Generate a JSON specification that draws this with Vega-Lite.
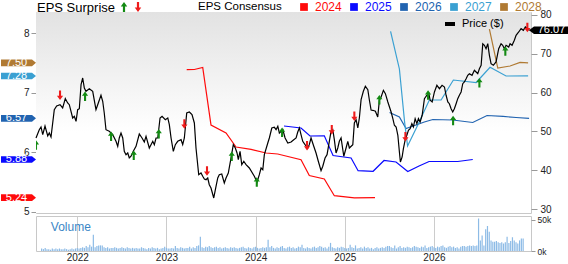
{
 "$schema": "https://vega.github.io/schema/vega-lite/v6.json",
 "padding": 0,
 "background": "white",
 "bounds": "flush",
 "config": {
  "font": "Liberation Sans",
  "view": {"stroke": "#c8c8c8"},
  "axis": {"labelColor": "#222222", "tickColor": "#999999", "gridColor": "#cccccc", "gridWidth": 1, "domain": false, "labelFontSize": 10},
  "legend": {"padding": 0, "titleFontWeight": "normal", "titleColor": "#000000", "labelColor": "#000000"}
 },
 "spacing": 3,
 "resolve": {
  "scale": {"x": "independent", "y": "independent", "color": "independent", "fill": "independent", "shape": "independent", "stroke": "independent"},
  "legend": {"color": "independent", "fill": "independent", "shape": "independent", "stroke": "independent"}
 },
 "datasets": {
  "price": [
   {"t":2021.593,"p":48.30},{"t":2021.629,"p":50.44},{"t":2021.648,"p":51.14},{"t":2021.667,"p":49.15},{"t":2021.692,"p":51.39},{"t":2021.722,"p":48.82},{"t":2021.739,"p":49.59},{"t":2021.758,"p":48.56},{"t":2021.794,"p":55.59},{"t":2021.820,"p":56.55},
   {"t":2021.857,"p":56.88},{"t":2021.886,"p":56.03},{"t":2021.915,"p":58.43},{"t":2021.941,"p":57.32},{"t":2021.959,"p":56.88},{"t":2021.996,"p":53.46},{"t":2022.014,"p":53.89},{"t":2022.033,"p":52.60},{"t":2022.051,"p":55.59},{"t":2022.069,"p":55.85},
   {"t":2022.088,"p":62.04},{"t":2022.106,"p":63.76},{"t":2022.124,"p":61.19},{"t":2022.142,"p":60.34},{"t":2022.179,"p":61.01},{"t":2022.216,"p":60.34},{"t":2022.252,"p":55.59},{"t":2022.271,"p":56.88},{"t":2022.307,"p":59.31},{"t":2022.326,"p":57.76},
   {"t":2022.343,"p":54.74},{"t":2022.362,"p":50.44},{"t":2022.398,"p":50.03},{"t":2022.436,"p":49.15},{"t":2022.472,"p":47.45},{"t":2022.491,"p":46.16},{"t":2022.508,"p":48.30},{"t":2022.527,"p":49.59},{"t":2022.546,"p":48.30},{"t":2022.563,"p":44.87},
   {"t":2022.582,"p":44.00},{"t":2022.601,"p":44.44},{"t":2022.618,"p":43.15},{"t":2022.637,"p":43.59},{"t":2022.662,"p":44.87},{"t":2022.692,"p":46.16},{"t":2022.728,"p":49.33},{"t":2022.758,"p":48.30},{"t":2022.783,"p":47.27},{"t":2022.802,"p":48.74},
   {"t":2022.838,"p":45.72},{"t":2022.876,"p":47.45},{"t":2022.893,"p":46.58},{"t":2022.912,"p":48.30},{"t":2022.931,"p":48.30},{"t":2022.956,"p":53.46},{"t":2022.978,"p":53.89},{"t":2023.014,"p":53.02},{"t":2023.041,"p":53.46},{"t":2023.058,"p":51.73},
   {"t":2023.077,"p":48.30},{"t":2023.102,"p":44.87},{"t":2023.124,"p":46.58},{"t":2023.150,"p":47.45},{"t":2023.187,"p":47.86},{"t":2023.205,"p":46.58},{"t":2023.223,"p":48.30},{"t":2023.249,"p":54.74},{"t":2023.278,"p":55.00},{"t":2023.307,"p":54.31},
   {"t":2023.333,"p":52.17},{"t":2023.351,"p":45.72},{"t":2023.381,"p":38.84},{"t":2023.406,"p":39.28},{"t":2023.425,"p":38.43},{"t":2023.443,"p":37.74},{"t":2023.461,"p":37.56},{"t":2023.480,"p":37.99},{"t":2023.497,"p":36.27},{"t":2023.516,"p":35.42},
   {"t":2023.546,"p":32.84},{"t":2023.571,"p":35.85},{"t":2023.590,"p":37.99},{"t":2023.607,"p":38.84},{"t":2023.634,"p":39.02},{"t":2023.662,"p":36.70},{"t":2023.681,"p":37.99},{"t":2023.706,"p":39.28},{"t":2023.736,"p":43.15},{"t":2023.761,"p":46.58},
   {"t":2023.783,"p":45.72},{"t":2023.802,"p":44.44},{"t":2023.816,"p":42.71},{"t":2023.835,"p":44.87},{"t":2023.854,"p":41.42},{"t":2023.876,"p":42.30},{"t":2023.901,"p":41.42},{"t":2023.937,"p":40.57},{"t":2023.992,"p":38.43},{"t":2024.022,"p":36.96},
   {"t":2024.047,"p":38.84},{"t":2024.066,"p":40.57},{"t":2024.085,"p":40.13},{"t":2024.102,"p":44.00},{"t":2024.140,"p":47.01},{"t":2024.157,"p":48.30},{"t":2024.184,"p":50.88},{"t":2024.212,"p":51.06},{"t":2024.231,"p":50.44},{"t":2024.250,"p":51.32},
   {"t":2024.267,"p":49.59},{"t":2024.286,"p":50.03},{"t":2024.305,"p":50.44},{"t":2024.330,"p":48.30},{"t":2024.360,"p":47.01},{"t":2024.396,"p":47.27},{"t":2024.425,"p":47.86},{"t":2024.451,"p":48.30},{"t":2024.469,"p":49.85},{"t":2024.487,"p":50.88},
   {"t":2024.505,"p":49.15},{"t":2024.524,"p":47.45},{"t":2024.549,"p":46.58},{"t":2024.579,"p":45.72},{"t":2024.596,"p":46.58},{"t":2024.615,"p":48.30},{"t":2024.645,"p":46.16},{"t":2024.670,"p":44.44},{"t":2024.695,"p":42.30},{"t":2024.725,"p":39.87},
   {"t":2024.744,"p":41.01},{"t":2024.769,"p":43.15},{"t":2024.791,"p":44.00},{"t":2024.816,"p":47.45},{"t":2024.835,"p":50.03},{"t":2024.854,"p":50.44},{"t":2024.871,"p":47.86},{"t":2024.890,"p":44.44},{"t":2024.909,"p":45.72},{"t":2024.926,"p":47.45},
   {"t":2024.945,"p":48.30},{"t":2024.975,"p":43.59},{"t":2025.000,"p":45.72},{"t":2025.019,"p":47.45},{"t":2025.036,"p":45.72},{"t":2025.074,"p":46.58},{"t":2025.091,"p":52.17},{"t":2025.110,"p":53.02},{"t":2025.129,"p":50.88},{"t":2025.146,"p":53.46},
   {"t":2025.165,"p":58.17},{"t":2025.190,"p":60.34},{"t":2025.212,"p":61.62},{"t":2025.239,"p":60.75},{"t":2025.256,"p":58.09},{"t":2025.275,"p":55.52},{"t":2025.294,"p":55.44},{"t":2025.322,"p":55.18},{"t":2025.348,"p":53.71},{"t":2025.366,"p":58.02},
   {"t":2025.385,"p":58.87},{"t":2025.410,"p":60.59},{"t":2025.432,"p":59.72},{"t":2025.459,"p":57.58},{"t":2025.495,"p":55.00},{"t":2025.514,"p":53.28},{"t":2025.531,"p":51.57},{"t":2025.550,"p":51.14},{"t":2025.569,"p":49.00},{"t":2025.586,"p":44.69},
   {"t":2025.597,"p":42.12},{"t":2025.616,"p":43.41},{"t":2025.630,"p":45.54},{"t":2025.652,"p":48.12},{"t":2025.668,"p":49.00},{"t":2025.685,"p":50.29},{"t":2025.704,"p":50.70},{"t":2025.723,"p":51.99},{"t":2025.740,"p":51.14},{"t":2025.759,"p":53.28},
   {"t":2025.778,"p":51.99},{"t":2025.795,"p":53.28},{"t":2025.814,"p":52.42},{"t":2025.836,"p":54.15},{"t":2025.861,"p":58.43},{"t":2025.888,"p":59.31},{"t":2025.910,"p":59.72},{"t":2025.924,"p":58.02},{"t":2025.946,"p":57.58},{"t":2025.971,"p":60.16},
   {"t":2025.998,"p":61.88},{"t":2026.026,"p":61.01},{"t":2026.055,"p":61.88},{"t":2026.081,"p":61.44},{"t":2026.099,"p":59.31},{"t":2026.118,"p":57.58},{"t":2026.135,"p":57.14},{"t":2026.154,"p":55.85},{"t":2026.172,"p":55.00},{"t":2026.190,"p":55.85},
   {"t":2026.209,"p":57.14},{"t":2026.227,"p":58.43},{"t":2026.245,"p":59.31},{"t":2026.264,"p":60.16},{"t":2026.282,"p":62.30},{"t":2026.300,"p":62.73},{"t":2026.319,"p":63.58},{"t":2026.337,"p":64.46},{"t":2026.355,"p":64.87},{"t":2026.384,"p":64.46},
   {"t":2026.410,"p":65.75},{"t":2026.429,"p":65.31},{"t":2026.447,"p":64.87},{"t":2026.465,"p":66.16},{"t":2026.484,"p":67.04},{"t":2026.502,"p":72.60},{"t":2026.520,"p":72.19},{"t":2026.538,"p":71.31},{"t":2026.557,"p":72.60},{"t":2026.575,"p":69.61},
   {"t":2026.593,"p":67.45},{"t":2026.618,"p":67.04},{"t":2026.648,"p":67.89},{"t":2026.677,"p":71.31},{"t":2026.703,"p":72.60},{"t":2026.721,"p":72.19},{"t":2026.739,"p":71.31},{"t":2026.758,"p":72.19},{"t":2026.787,"p":71.75},{"t":2026.802,"p":72.60},
   {"t":2026.824,"p":72.19},{"t":2026.849,"p":73.48},{"t":2026.868,"p":74.77},{"t":2026.897,"p":75.62},{"t":2026.923,"p":76.47},{"t":2026.948,"p":76.06},{"t":2026.970,"p":76.91},{"t":2026.996,"p":76.47},{"t":2027.014,"p":76.07}
  ],
  "eps": [
   {"year":"2024","t":2023.249,"eps":7.385},{"year":"2024","t":2023.333,"eps":7.388},{"year":"2024","t":2023.425,"eps":7.422},{"year":"2024","t":2023.516,"eps":6.458},{"year":"2024","t":2023.681,"eps":6.324},{"year":"2024","t":2023.791,"eps":6.089},{"year":"2024","t":2023.956,"eps":6.048},{"year":"2024","t":2024.121,"eps":5.989},{"year":"2024","t":2024.249,"eps":5.972},{"year":"2024","t":2024.505,"eps":5.877},{"year":"2024","t":2024.596,"eps":5.612},{"year":"2024","t":2024.761,"eps":5.553},{"year":"2024","t":2024.871,"eps":5.273},{"year":"2024","t":2025.091,"eps":5.235},{"year":"2024","t":2025.318,"eps":5.24},
   {"year":"2025","t":2024.318,"eps":6.441},{"year":"2025","t":2024.505,"eps":6.408},{"year":"2025","t":2024.604,"eps":6.274},{"year":"2025","t":2024.761,"eps":6.277},{"year":"2025","t":2024.857,"eps":5.947},{"year":"2025","t":2025.055,"eps":5.905},{"year":"2025","t":2025.132,"eps":5.692},{"year":"2025","t":2025.297,"eps":5.682},{"year":"2025","t":2025.417,"eps":5.863},{"year":"2025","t":2025.549,"eps":5.838},{"year":"2025","t":2025.678,"eps":5.679},{"year":"2025","t":2025.802,"eps":5.771},{"year":"2025","t":2025.912,"eps":5.846},{"year":"2025","t":2026.227,"eps":5.846},{"year":"2025","t":2026.392,"eps":5.88},
   {"year":"2026","t":2025.478,"eps":6.668},{"year":"2026","t":2025.586,"eps":6.592},{"year":"2026","t":2025.659,"eps":6.400},{"year":"2026","t":2025.860,"eps":6.508},{"year":"2026","t":2025.953,"eps":6.550},{"year":"2026","t":2026.172,"eps":6.542},{"year":"2026","t":2026.392,"eps":6.500},{"year":"2026","t":2026.549,"eps":6.617},{"year":"2026","t":2026.725,"eps":6.601},{"year":"2026","t":2026.868,"eps":6.584},{"year":"2026","t":2027.011,"eps":6.57},
   {"year":"2027","t":2025.489,"eps":8.028},{"year":"2027","t":2025.586,"eps":7.397},{"year":"2027","t":2025.643,"eps":6.508},{"year":"2027","t":2025.676,"eps":6.106},{"year":"2027","t":2025.788,"eps":6.458},{"year":"2027","t":2025.915,"eps":6.877},{"year":"2027","t":2026.044,"eps":6.877},{"year":"2027","t":2026.179,"eps":7.212},{"year":"2027","t":2026.429,"eps":7.170},{"year":"2027","t":2026.582,"eps":7.425},{"year":"2027","t":2026.758,"eps":7.279},{"year":"2027","t":2027.000,"eps":7.28},
   {"year":"2028","t":2026.575,"eps":8.067},{"year":"2028","t":2026.667,"eps":7.413},{"year":"2028","t":2026.802,"eps":7.447},{"year":"2028","t":2026.912,"eps":7.506},{"year":"2028","t":2027.000,"eps":7.50}
  ],
  "tags": [
   {"year":"2028","eps":7.50},{"year":"2027","eps":7.28},{"year":"2026","eps":6.57},{"year":"2025","eps":5.88},{"year":"2024","eps":5.24}
  ],
  "arrows": [
   {"t":2021.593,"p":46.50,"dir":"up"},{"t":2021.857,"p":59.31,"dir":"down"},{"t":2022.132,"p":59.05,"dir":"up"},{"t":2022.418,"p":48.74,"dir":"up"},{"t":2022.667,"p":43.84,"dir":"up"},{"t":2022.942,"p":49.41,"dir":"up"},{"t":2023.223,"p":51.91,"dir":"down"},
   {"t":2023.472,"p":39.80,"dir":"down"},{"t":2023.744,"p":43.59,"dir":"up"},{"t":2024.019,"p":36.96,"dir":"up"},{"t":2024.297,"p":49.77,"dir":"up"},{"t":2024.571,"p":46.32,"dir":"down"},{"t":2024.843,"p":50.44,"dir":"down"},{"t":2025.091,"p":53.89,"dir":"down"},
   {"t":2025.366,"p":58.17,"dir":"up"},{"t":2025.652,"p":48.64,"dir":"down"},{"t":2025.901,"p":59.38,"dir":"up"},{"t":2026.176,"p":52.81,"dir":"up"},{"t":2026.465,"p":62.53,"dir":"up"},{"t":2026.750,"p":70.72,"dir":"up"},{"t":2026.992,"p":76.78,"dir":"down"}
  ],
  "last": [{"p":76.07}],
  "bg": [{"t0":2021.593,"t1":2027.032,"e0":4.983,"e1":8.352}],
  "vol": [
   {"t":2021.60,"v":4000},{"t":2021.62,"v":3000},{"t":2021.64,"v":5000},{"t":2021.66,"v":3000},{"t":2021.68,"v":3000},{"t":2021.70,"v":2000},{"t":2021.72,"v":4000},{"t":2021.74,"v":3000},{"t":2021.76,"v":4000},{"t":2021.78,"v":3000},
   {"t":2021.80,"v":4000},{"t":2021.82,"v":3000},{"t":2021.84,"v":3000},{"t":2021.86,"v":4000},{"t":2021.88,"v":3000},{"t":2021.90,"v":2000},{"t":2021.92,"v":3000},{"t":2021.94,"v":4000},{"t":2021.96,"v":3000},{"t":2021.98,"v":4000},
   {"t":2022.00,"v":5000},{"t":2022.02,"v":4000},{"t":2022.04,"v":5000},{"t":2022.06,"v":6000},{"t":2022.08,"v":5000},{"t":2022.10,"v":8000},{"t":2022.12,"v":6000},{"t":2022.14,"v":10000},{"t":2022.16,"v":7000},{"t":2022.18,"v":26000},
   {"t":2022.20,"v":6000},{"t":2022.22,"v":8000},{"t":2022.24,"v":9000},{"t":2022.26,"v":9000},{"t":2022.28,"v":9000},{"t":2022.30,"v":6000},{"t":2022.32,"v":5000},{"t":2022.34,"v":6000},{"t":2022.36,"v":4000},{"t":2022.38,"v":5000},
   {"t":2022.40,"v":5000},{"t":2022.42,"v":6000},{"t":2022.44,"v":5000},{"t":2022.46,"v":4000},{"t":2022.48,"v":5000},{"t":2022.50,"v":6000},{"t":2022.52,"v":5000},{"t":2022.54,"v":4000},{"t":2022.56,"v":6000},{"t":2022.58,"v":5000},
   {"t":2022.60,"v":4000},{"t":2022.62,"v":5000},{"t":2022.64,"v":4000},{"t":2022.66,"v":5000},{"t":2022.68,"v":4000},{"t":2022.70,"v":4000},{"t":2022.72,"v":6000},{"t":2022.74,"v":5000},{"t":2022.76,"v":4000},{"t":2022.78,"v":3000},
   {"t":2022.80,"v":5000},{"t":2022.82,"v":4000},{"t":2022.84,"v":6000},{"t":2022.86,"v":5000},{"t":2022.88,"v":4000},{"t":2022.90,"v":5000},{"t":2022.92,"v":3000},{"t":2022.94,"v":4000},{"t":2022.96,"v":5000},{"t":2022.98,"v":7000},
   {"t":2023.00,"v":5000},{"t":2023.02,"v":4000},{"t":2023.04,"v":4000},{"t":2023.06,"v":5000},{"t":2023.08,"v":4000},{"t":2023.10,"v":8000},{"t":2023.12,"v":5000},{"t":2023.14,"v":4000},{"t":2023.16,"v":6000},{"t":2023.18,"v":5000},
   {"t":2023.20,"v":4000},{"t":2023.22,"v":5000},{"t":2023.24,"v":5000},{"t":2023.26,"v":7000},{"t":2023.28,"v":4000},{"t":2023.30,"v":6000},{"t":2023.32,"v":5000},{"t":2023.34,"v":8000},{"t":2023.36,"v":9000},{"t":2023.38,"v":23000},
   {"t":2023.40,"v":6000},{"t":2023.42,"v":5000},{"t":2023.44,"v":7000},{"t":2023.46,"v":6000},{"t":2023.48,"v":8000},{"t":2023.50,"v":6000},{"t":2023.52,"v":5000},{"t":2023.54,"v":6000},{"t":2023.56,"v":7000},{"t":2023.58,"v":5000},
   {"t":2023.60,"v":6000},{"t":2023.62,"v":4000},{"t":2023.64,"v":5000},{"t":2023.66,"v":6000},{"t":2023.68,"v":5000},{"t":2023.70,"v":4000},{"t":2023.72,"v":6000},{"t":2023.74,"v":5000},{"t":2023.76,"v":6000},{"t":2023.78,"v":5000},
   {"t":2023.80,"v":4000},{"t":2023.82,"v":5000},{"t":2023.84,"v":6000},{"t":2023.86,"v":7000},{"t":2023.88,"v":5000},{"t":2023.90,"v":4000},{"t":2023.92,"v":6000},{"t":2023.94,"v":5000},{"t":2023.96,"v":4000},{"t":2023.98,"v":6000},
   {"t":2024.00,"v":7000},{"t":2024.02,"v":5000},{"t":2024.04,"v":4000},{"t":2024.06,"v":5000},{"t":2024.08,"v":6000},{"t":2024.10,"v":5000},{"t":2024.12,"v":6000},{"t":2024.14,"v":18000},{"t":2024.16,"v":6000},{"t":2024.18,"v":8000},
   {"t":2024.20,"v":5000},{"t":2024.22,"v":4000},{"t":2024.24,"v":6000},{"t":2024.26,"v":5000},{"t":2024.28,"v":7000},{"t":2024.30,"v":8000},{"t":2024.32,"v":5000},{"t":2024.34,"v":4000},{"t":2024.36,"v":6000},{"t":2024.38,"v":7000},
   {"t":2024.40,"v":5000},{"t":2024.42,"v":6000},{"t":2024.44,"v":4000},{"t":2024.46,"v":5000},{"t":2024.48,"v":7000},{"t":2024.50,"v":6000},{"t":2024.52,"v":10000},{"t":2024.54,"v":5000},{"t":2024.56,"v":4000},{"t":2024.58,"v":6000},
   {"t":2024.60,"v":5000},{"t":2024.62,"v":4000},{"t":2024.64,"v":6000},{"t":2024.66,"v":7000},{"t":2024.68,"v":5000},{"t":2024.70,"v":6000},{"t":2024.72,"v":8000},{"t":2024.74,"v":7000},{"t":2024.76,"v":5000},{"t":2024.78,"v":6000},
   {"t":2024.80,"v":4000},{"t":2024.82,"v":7000},{"t":2024.84,"v":13000},{"t":2024.86,"v":6000},{"t":2024.88,"v":5000},{"t":2024.90,"v":4000},{"t":2024.92,"v":6000},{"t":2024.94,"v":5000},{"t":2024.96,"v":7000},{"t":2024.98,"v":6000},
   {"t":2025.00,"v":5000},{"t":2025.02,"v":4000},{"t":2025.04,"v":5000},{"t":2025.06,"v":10000},{"t":2025.08,"v":6000},{"t":2025.10,"v":5000},{"t":2025.12,"v":9000},{"t":2025.14,"v":4000},{"t":2025.16,"v":5000},{"t":2025.18,"v":6000},
   {"t":2025.20,"v":4000},{"t":2025.22,"v":7000},{"t":2025.24,"v":5000},{"t":2025.26,"v":6000},{"t":2025.28,"v":4000},{"t":2025.30,"v":5000},{"t":2025.32,"v":3000},{"t":2025.34,"v":5000},{"t":2025.36,"v":6000},{"t":2025.38,"v":4000},
   {"t":2025.40,"v":5000},{"t":2025.42,"v":6000},{"t":2025.44,"v":5000},{"t":2025.46,"v":7000},{"t":2025.48,"v":8000},{"t":2025.50,"v":8000},{"t":2025.52,"v":6000},{"t":2025.54,"v":5000},{"t":2025.56,"v":9000},{"t":2025.58,"v":4000},
   {"t":2025.60,"v":6000},{"t":2025.62,"v":8000},{"t":2025.64,"v":5000},{"t":2025.66,"v":6000},{"t":2025.68,"v":5000},{"t":2025.70,"v":7000},{"t":2025.72,"v":6000},{"t":2025.74,"v":5000},{"t":2025.76,"v":6000},{"t":2025.78,"v":8000},
   {"t":2025.80,"v":7000},{"t":2025.82,"v":6000},{"t":2025.84,"v":5000},{"t":2025.86,"v":7000},{"t":2025.88,"v":6000},{"t":2025.90,"v":9000},{"t":2025.92,"v":5000},{"t":2025.94,"v":6000},{"t":2025.96,"v":7000},{"t":2025.98,"v":8000},
   {"t":2026.00,"v":6000},{"t":2026.02,"v":5000},{"t":2026.04,"v":7000},{"t":2026.06,"v":6000},{"t":2026.08,"v":8000},{"t":2026.10,"v":9000},{"t":2026.12,"v":6000},{"t":2026.14,"v":5000},{"t":2026.16,"v":7000},{"t":2026.18,"v":8000},
   {"t":2026.20,"v":6000},{"t":2026.22,"v":7000},{"t":2026.24,"v":5000},{"t":2026.26,"v":6000},{"t":2026.28,"v":4000},{"t":2026.30,"v":7000},{"t":2026.32,"v":8000},{"t":2026.34,"v":8000},{"t":2026.36,"v":7000},{"t":2026.38,"v":8000},
   {"t":2026.40,"v":9000},{"t":2026.42,"v":8000},{"t":2026.44,"v":9000},{"t":2026.46,"v":8000},{"t":2026.48,"v":9000},{"t":2026.50,"v":52000},{"t":2026.52,"v":17000},{"t":2026.54,"v":25000},{"t":2026.56,"v":9000},{"t":2026.58,"v":35000},
   {"t":2026.60,"v":40000},{"t":2026.62,"v":31000},{"t":2026.64,"v":17000},{"t":2026.66,"v":15000},{"t":2026.68,"v":15000},{"t":2026.70,"v":16000},{"t":2026.72,"v":14000},{"t":2026.74,"v":13000},{"t":2026.76,"v":14000},{"t":2026.78,"v":12000},
   {"t":2026.80,"v":14000},{"t":2026.82,"v":23000},{"t":2026.84,"v":13000},{"t":2026.86,"v":16000},{"t":2026.88,"v":22000},{"t":2026.90,"v":17000},{"t":2026.92,"v":14000},{"t":2026.94,"v":12000},{"t":2026.96,"v":17000},{"t":2026.98,"v":20000},
   {"t":2027.00,"v":20000}
  ]
 },
 "vconcat": [
  {
   "width": 495,
   "height": 201,
   "view": {"stroke": "#c8c8c8"},
   "resolve": {"scale": {"y": "independent"}},
   "layer": [
    {
     "layer": [
      {
       "data": {"name": "bg"},
       "mark": {"type": "rect", "color": {"gradient": "linear", "x1": 0, "y1": 0, "x2": 0, "y2": 1, "stops": [{"offset": 0, "color": "#e2e2e2"}, {"offset": 0.6, "color": "#ffffff"}]}},
       "encoding": {
        "x": {"field": "t0", "type": "quantitative", "scale": {"domain": [2021.593, 2027.032], "nice": false, "zero": false},
              "axis": {"orient": "top", "values": [2022.077, 2023.154, 2024.252, 2025.33, 2026.406], "labels": false, "ticks": false, "domain": false, "grid": true, "title": null, "labelPadding": 0, "tickSize": 0}},
        "x2": {"field": "t1"},
        "y": {"field": "e0", "type": "quantitative", "scale": {"domain": [4.983, 8.352], "nice": false, "zero": false},
              "axis": {"orient": "left", "values": [5, 5.5, 6, 6.5, 7, 7.5, 8], "format": "~g", "grid": false, "tickSize": 5, "labelPadding": 2, "title": null, "labelFontSize": 10}},
        "y2": {"field": "e1"}
       }
      },
      {
       "data": {"name": "eps"},
       "mark": {"type": "line", "strokeWidth": 1.2},
       "encoding": {
        "x": {"field": "t", "type": "quantitative"},
        "y": {"field": "eps", "type": "quantitative"},
        "color": {"field": "year", "type": "nominal",
                  "scale": {"domain": ["2024", "2025", "2026", "2027", "2028"], "range": ["#ff0a0a", "#0a0aff", "#2163b0", "#3aa0d2", "#b07a33"]},
                  "legend": {"orient": "none", "legendX": 162, "legendY": -11, "direction": "horizontal", "title": "EPS Consensus", "titleOrient": "left", "titleFontSize": 11.5, "titlePadding": 16,
                             "symbolType": "square", "symbolSize": 60, "labelFontSize": 12, "labelOffset": 5, "columnPadding": 6,
                             "encoding": {
                              "symbols": {"shape": {"value": "square"}, "strokeWidth": {"value": 0}, "fill": {"condition": [{"test": "datum.label === '2024'", "value": "#ff0a0a"}, {"test": "datum.label === '2025'", "value": "#0a0aff"}, {"test": "datum.label === '2026'", "value": "#2163b0"}, {"test": "datum.label === '2027'", "value": "#3aa0d2"}], "value": "#b07a33"}},
                              "labels": {"fill": {"condition": [{"test": "datum.label === '2024'", "value": "#ff0a0a"}, {"test": "datum.label === '2025'", "value": "#0a0aff"}, {"test": "datum.label === '2026'", "value": "#2163b0"}, {"test": "datum.label === '2027'", "value": "#3aa0d2"}], "value": "#b07a33"}}
                             }}}
       }
      },
      {
       "data": {"name": "tags"},
       "mark": {"type": "point", "filled": true, "opacity": 1, "size": 1225, "shape": "M-1,-0.19L0.77,-0.19L1,0L0.77,0.19L-1,0.19Z", "xOffset": -17.5},
       "encoding": {
        "x": {"datum": 2021.593, "type": "quantitative"},
        "y": {"field": "eps", "type": "quantitative"},
        "color": {"field": "year", "type": "nominal", "legend": null}
       }
      },
      {
       "data": {"name": "tags"},
       "mark": {"type": "text", "color": "#ffffff", "fontSize": 11, "align": "center", "baseline": "middle", "xOffset": -19.5},
       "encoding": {
        "x": {"datum": 2021.593, "type": "quantitative"},
        "y": {"field": "eps", "type": "quantitative"},
        "text": {"field": "eps", "type": "quantitative", "format": ".2f"}
       }
      }
     ]
    },
    {
     "layer": [
      {
       "data": {"name": "price"},
       "mark": {"type": "line", "strokeWidth": 1.2},
       "encoding": {
        "x": {"field": "t", "type": "quantitative"},
        "y": {"field": "p", "type": "quantitative", "scale": {"domain": [28.97, 80.77], "nice": false, "zero": false},
              "axis": {"orient": "right", "values": [30, 35, 40, 45, 50, 55, 60, 65, 70, 75, 80], "grid": true, "tickSize": 6, "labelPadding": 3, "title": null, "labelFontSize": 10}},
        "stroke": {"datum": "Price ($)", "type": "nominal", "scale": {"domain": ["Price ($)"], "range": ["#000000"]},
                   "legend": {"orient": "none", "legendX": 407, "legendY": 5, "title": null, "symbolType": "stroke", "symbolSize": 100, "labelFontSize": 11, "labelOffset": 5,
                              "encoding": {"symbols": {"strokeWidth": {"value": 4}, "stroke": {"value": "#000000"}}}}}
       }
      },
      {
       "data": {"name": "arrows"},
       "mark": {"type": "point", "filled": true, "opacity": 1, "size": 90, "clip": true},
       "encoding": {
        "x": {"field": "t", "type": "quantitative"},
        "y": {"field": "p", "type": "quantitative"},
        "fill": {"field": "dir", "type": "nominal", "scale": {"domain": ["up", "down"], "range": ["#138a13", "#ee1b1b"]},
                 "legend": {"orient": "none", "legendX": 1, "legendY": -11, "direction": "horizontal", "title": "EPS Surprise", "titleOrient": "left", "titleFontSize": 13, "titlePadding": 2, "labelExpr": "''", "labelOffset": 0, "columnPadding": 0, "symbolSize": 100}},
        "shape": {"field": "dir", "type": "nominal", "scale": {"domain": ["up", "down"], "range": ["M0,-1L0.65,-0.1L0.22,-0.1L0.22,1L-0.22,1L-0.22,-0.1L-0.65,-0.1Z", "M0,1L0.65,0.1L0.22,0.1L0.22,-1L-0.22,-1L-0.22,0.1L-0.65,0.1Z"]},
                  "legend": {"orient": "none", "legendX": 1, "legendY": -11, "direction": "horizontal", "title": "EPS Surprise", "titleOrient": "left", "titleFontSize": 13, "titlePadding": 2, "labelExpr": "''", "labelOffset": 0, "columnPadding": 0, "symbolSize": 100}}
       }
      },
      {
       "data": {"name": "last"},
       "mark": {"type": "point", "filled": true, "opacity": 1, "color": "#000000", "size": 1600, "shape": "M-1,0L-0.75,-0.19L1,-0.19L1,0.19L-0.75,0.19Z", "xOffset": 18},
       "encoding": {
        "x": {"datum": 2027.032, "type": "quantitative"},
        "y": {"field": "p", "type": "quantitative"}
       }
      },
      {
       "data": {"name": "last"},
       "mark": {"type": "text", "color": "#ffffff", "fontSize": 11, "align": "center", "baseline": "middle", "xOffset": 20.5},
       "encoding": {
        "x": {"datum": 2027.032, "type": "quantitative"},
        "y": {"field": "p", "type": "quantitative"},
        "text": {"field": "p", "type": "quantitative", "format": ".2f"}
       }
      }
     ]
    }
   ]
  },
  {
   "width": 495,
   "height": 35,
   "view": {"stroke": "#c8c8c8", "fill": "#ffffff"},
   "layer": [
    {
     "data": {"name": "vol"},
     "mark": {"type": "bar", "width": 1.2, "color": "#8dbbe6"},
     "encoding": {
      "x": {"field": "t", "type": "quantitative", "scale": {"domain": [2021.593, 2027.032], "nice": false, "zero": false},
            "axis": {"values": [2022, 2023, 2024, 2025, 2026], "format": "d", "grid": true, "ticks": false, "domain": false, "labelPadding": 1, "labelFontSize": 10, "title": null}},
      "y": {"field": "v", "type": "quantitative", "scale": {"domain": [0, 56000], "nice": false},
            "axis": {"orient": "right", "values": [0, 10000, 20000, 30000, 40000, 50000], "format": "~s", "labelOverlap": {"expr": "false"}, "labelFontSize": 8.5, "tickSize": 4, "labelPadding": 2, "grid": false, "title": null}}
     }
    },
    {
     "data": {"values": [{"label": "Volume"}]},
     "mark": {"type": "text", "align": "left", "baseline": "middle", "fontSize": 12, "color": "#3a86c6"},
     "encoding": {
      "x": {"datum": 2021.703, "type": "quantitative"},
      "y": {"datum": 39000, "type": "quantitative"},
      "text": {"field": "label"}
     }
    }
   ]
  }
 ]
}
